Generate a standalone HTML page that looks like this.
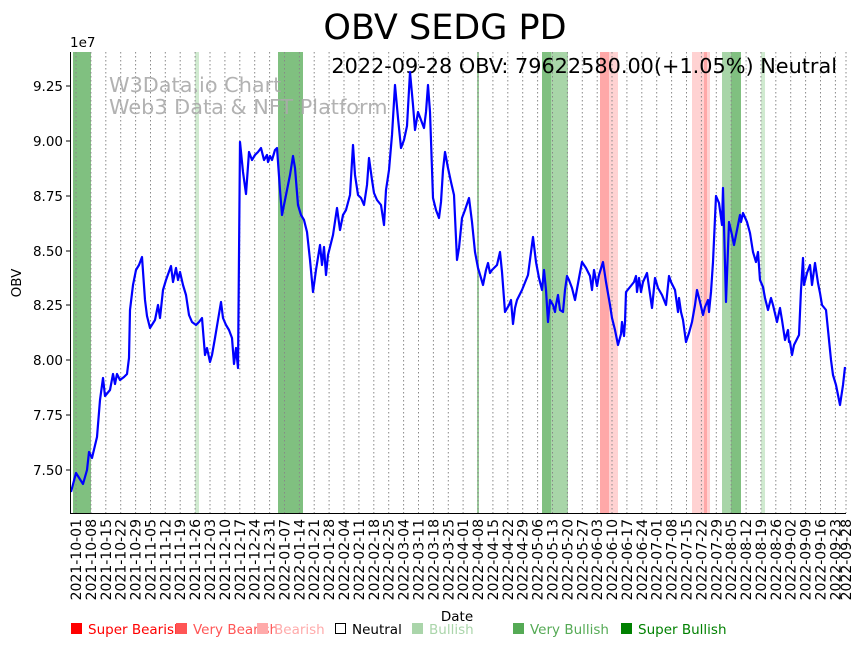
<!DOCTYPE html>
<html><head><meta charset="utf-8"><style>
html,body{margin:0;padding:0;background:#fff;}
svg{display:block;font-family:"DejaVu Sans","Liberation Sans",sans-serif;}
</style></head><body>
<svg width="864" height="646" viewBox="0 0 864 646" xmlns="http://www.w3.org/2000/svg">
<rect width="864" height="646" fill="#fff"/>
<text x="445" y="39" font-size="35" text-anchor="middle">OBV SEDG PD</text>
<g>
<rect x="73" y="52" width="18" height="461" fill="#80c080"/>
<rect x="195" y="52" width="4" height="461" fill="#d0ead0"/>
<rect x="278" y="52" width="25" height="461" fill="#80c080"/>
<rect x="477" y="52" width="2" height="461" fill="#9ccc9c"/>
<rect x="542" y="52" width="9" height="461" fill="#80c080"/>
<rect x="551" y="52" width="17" height="461" fill="#a8d5a8"/>
<rect x="600" y="52" width="9" height="461" fill="#ffa8a8"/>
<rect x="609" y="52" width="9" height="461" fill="#ffd2d2"/>
<rect x="692" y="52" width="18" height="461" fill="#ffd2d2"/>
<rect x="704" y="52" width="3" height="461" fill="#ffa8a8"/>
<rect x="722" y="52" width="9" height="461" fill="#a8d5a8"/>
<rect x="731" y="52" width="10" height="461" fill="#80c080"/>
<rect x="761" y="52" width="4" height="461" fill="#d0ead0"/>
</g>
<g stroke="#888" stroke-width="1" stroke-dasharray="1.5,2.5">
<line x1="76" y1="52" x2="76" y2="513"/><line x1="90.9" y1="52" x2="90.9" y2="513"/><line x1="105.8" y1="52" x2="105.8" y2="513"/><line x1="120.7" y1="52" x2="120.7" y2="513"/><line x1="135.6" y1="52" x2="135.6" y2="513"/><line x1="150.5" y1="52" x2="150.5" y2="513"/><line x1="165.3" y1="52" x2="165.3" y2="513"/><line x1="180.2" y1="52" x2="180.2" y2="513"/><line x1="195.1" y1="52" x2="195.1" y2="513"/><line x1="210" y1="52" x2="210" y2="513"/><line x1="224.9" y1="52" x2="224.9" y2="513"/><line x1="239.8" y1="52" x2="239.8" y2="513"/><line x1="254.7" y1="52" x2="254.7" y2="513"/><line x1="269.6" y1="52" x2="269.6" y2="513"/><line x1="284.5" y1="52" x2="284.5" y2="513"/><line x1="299.4" y1="52" x2="299.4" y2="513"/><line x1="314.2" y1="52" x2="314.2" y2="513"/><line x1="329.1" y1="52" x2="329.1" y2="513"/><line x1="344" y1="52" x2="344" y2="513"/><line x1="358.9" y1="52" x2="358.9" y2="513"/><line x1="373.8" y1="52" x2="373.8" y2="513"/><line x1="388.7" y1="52" x2="388.7" y2="513"/><line x1="403.6" y1="52" x2="403.6" y2="513"/><line x1="418.5" y1="52" x2="418.5" y2="513"/><line x1="433.4" y1="52" x2="433.4" y2="513"/><line x1="448.3" y1="52" x2="448.3" y2="513"/><line x1="463.1" y1="52" x2="463.1" y2="513"/><line x1="478" y1="52" x2="478" y2="513"/><line x1="492.9" y1="52" x2="492.9" y2="513"/><line x1="507.8" y1="52" x2="507.8" y2="513"/><line x1="522.7" y1="52" x2="522.7" y2="513"/><line x1="537.6" y1="52" x2="537.6" y2="513"/><line x1="552.5" y1="52" x2="552.5" y2="513"/><line x1="567.4" y1="52" x2="567.4" y2="513"/><line x1="582.3" y1="52" x2="582.3" y2="513"/><line x1="597.2" y1="52" x2="597.2" y2="513"/><line x1="612" y1="52" x2="612" y2="513"/><line x1="626.9" y1="52" x2="626.9" y2="513"/><line x1="641.8" y1="52" x2="641.8" y2="513"/><line x1="656.7" y1="52" x2="656.7" y2="513"/><line x1="671.6" y1="52" x2="671.6" y2="513"/><line x1="686.5" y1="52" x2="686.5" y2="513"/><line x1="701.4" y1="52" x2="701.4" y2="513"/><line x1="716.3" y1="52" x2="716.3" y2="513"/><line x1="731.2" y1="52" x2="731.2" y2="513"/><line x1="746.1" y1="52" x2="746.1" y2="513"/><line x1="760.9" y1="52" x2="760.9" y2="513"/><line x1="775.8" y1="52" x2="775.8" y2="513"/><line x1="790.7" y1="52" x2="790.7" y2="513"/><line x1="805.6" y1="52" x2="805.6" y2="513"/><line x1="820.5" y1="52" x2="820.5" y2="513"/><line x1="835.4" y1="52" x2="835.4" y2="513"/><line x1="846" y1="52" x2="846" y2="513"/>
</g>
<text x="109" y="92" font-size="20.8" fill="#aaa" fill-opacity="0.9">W3Data.io Chart</text>
<text x="109" y="114" font-size="20.8" fill="#aaa" fill-opacity="0.9">Web3 Data &amp; NFT Platform</text>
<text x="837" y="73" font-size="20.8" text-anchor="end">2022-09-28 OBV: 79622580.00(+1.05%) Neutral</text>
<polyline fill="none" stroke="#0000ff" stroke-width="2.2" stroke-linejoin="round" points="71,492 76,473 83,484 87,470 89,452 92,458 97,437 100,400 103,378 105,396 110,390 113,374 115,384 117,374 120,380 124,377 127,374 129,358 130,310 133,285 136,270 139,265 142,257 145,300 147,316 150,328 155,320 158,305 160,318 163,290 166,280 171,266 173,282 176,268 178,280 180,272 183,285 186,295 189,315 192,322 196,325 199,322 202,318 205,355 207,348 210,362 212,355 215,338 218,320 221,302 223,318 226,325 229,330 232,338 234,364 236,348 238,368 240,142 243,172 246,194 249,152 252,160 255,155 258,152 261,148 264,160 267,155 268,162 270,156 272,160 275,150 277,148 280,190 282,215 285,200 290,175 293,156 295,168 298,205 301,215 304,220 307,232 310,260 313,292 316,270 320,245 322,265 324,247 326,275 328,255 333,235 337,208 340,230 343,215 346,210 350,195 353,145 355,175 358,195 361,198 364,205 367,185 369,158 372,180 374,193 377,200 381,205 384,225 386,190 389,170 392,135 395,85 398,118 401,148 404,140 407,126 410,72 413,105 415,130 418,112 421,120 424,128 426,112 428,85 430,112 433,198 436,210 439,218 441,202 443,170 445,152 448,168 451,182 454,195 457,260 459,248 462,218 465,210 469,198 472,222 475,252 478,268 481,278 483,285 486,270 488,263 490,273 492,270 497,265 500,252 502,272 505,312 509,305 511,300 513,324 515,308 517,300 522,290 528,275 533,237 536,262 539,278 542,290 544,270 546,290 548,322 550,300 553,305 555,312 556,305 558,295 560,310 563,312 565,290 567,276 569,280 572,288 575,300 579,278 582,262 586,268 590,276 592,290 594,270 597,286 599,275 603,262 606,282 610,305 612,318 615,330 618,345 621,334 622,322 624,336 625,322 626,292 630,287 634,282 636,276 637,292 639,278 641,292 643,282 647,273 652,308 655,278 658,288 662,295 666,305 669,276 671,282 675,290 678,312 679,298 681,312 683,320 686,342 689,333 692,322 695,305 697,290 700,302 703,315 705,307 708,300 709,312 711,292 713,262 716,196 719,203 722,225 723,188 726,302 729,222 732,235 734,245 737,230 740,215 741,222 743,213 747,222 750,233 753,252 756,262 758,252 760,280 763,287 765,298 768,310 771,298 773,305 777,322 780,308 782,320 785,340 788,330 789,342 790,342 792,355 794,345 799,335 801,290 803,258 804,285 807,273 810,265 812,285 815,263 818,283 820,293 822,305 826,310 829,340 831,360 833,375 836,385 840,405 843,385 845,367"/>
<line x1="70.5" y1="52" x2="70.5" y2="514" stroke="#000" stroke-width="1"/>
<line x1="70" y1="513.5" x2="846" y2="513.5" stroke="#000" stroke-width="1"/>
<g stroke="#000">
<line x1="66" y1="470" x2="70" y2="470"/><line x1="66" y1="415" x2="70" y2="415"/><line x1="66" y1="360" x2="70" y2="360"/><line x1="66" y1="305" x2="70" y2="305"/><line x1="66" y1="251" x2="70" y2="251"/><line x1="66" y1="196" x2="70" y2="196"/><line x1="66" y1="141" x2="70" y2="141"/><line x1="66" y1="86" x2="70" y2="86"/>
</g>
<g font-size="13.5" text-anchor="end">
<text x="63" y="475">7.50</text><text x="63" y="420">7.75</text><text x="63" y="365">8.00</text><text x="63" y="310">8.25</text><text x="63" y="256">8.50</text><text x="63" y="201">8.75</text><text x="63" y="146">9.00</text><text x="63" y="91">9.25</text>
</g>
<text x="70" y="47" font-size="13.5">1e7</text>
<text transform="translate(21,283) rotate(-90)" font-size="13.5" text-anchor="middle">OBV</text>
<text x="457" y="621" font-size="13.5" text-anchor="middle">Date</text>
<g font-size="14" text-anchor="end">
<text transform="translate(81,519) rotate(-90)">2021-10-01</text>
<text transform="translate(95.9,519) rotate(-90)">2021-10-08</text>
<text transform="translate(110.8,519) rotate(-90)">2021-10-15</text>
<text transform="translate(125.7,519) rotate(-90)">2021-10-22</text>
<text transform="translate(140.6,519) rotate(-90)">2021-10-29</text>
<text transform="translate(155.5,519) rotate(-90)">2021-11-05</text>
<text transform="translate(170.3,519) rotate(-90)">2021-11-12</text>
<text transform="translate(185.2,519) rotate(-90)">2021-11-19</text>
<text transform="translate(200.1,519) rotate(-90)">2021-11-26</text>
<text transform="translate(215,519) rotate(-90)">2021-12-03</text>
<text transform="translate(229.9,519) rotate(-90)">2021-12-10</text>
<text transform="translate(244.8,519) rotate(-90)">2021-12-17</text>
<text transform="translate(259.7,519) rotate(-90)">2021-12-24</text>
<text transform="translate(274.6,519) rotate(-90)">2021-12-31</text>
<text transform="translate(289.5,519) rotate(-90)">2022-01-07</text>
<text transform="translate(304.4,519) rotate(-90)">2022-01-14</text>
<text transform="translate(319.2,519) rotate(-90)">2022-01-21</text>
<text transform="translate(334.1,519) rotate(-90)">2022-01-28</text>
<text transform="translate(349,519) rotate(-90)">2022-02-04</text>
<text transform="translate(363.9,519) rotate(-90)">2022-02-11</text>
<text transform="translate(378.8,519) rotate(-90)">2022-02-18</text>
<text transform="translate(393.7,519) rotate(-90)">2022-02-25</text>
<text transform="translate(408.6,519) rotate(-90)">2022-03-04</text>
<text transform="translate(423.5,519) rotate(-90)">2022-03-11</text>
<text transform="translate(438.4,519) rotate(-90)">2022-03-18</text>
<text transform="translate(453.3,519) rotate(-90)">2022-03-25</text>
<text transform="translate(468.1,519) rotate(-90)">2022-04-01</text>
<text transform="translate(483,519) rotate(-90)">2022-04-08</text>
<text transform="translate(497.9,519) rotate(-90)">2022-04-15</text>
<text transform="translate(512.8,519) rotate(-90)">2022-04-22</text>
<text transform="translate(527.7,519) rotate(-90)">2022-04-29</text>
<text transform="translate(542.6,519) rotate(-90)">2022-05-06</text>
<text transform="translate(557.5,519) rotate(-90)">2022-05-13</text>
<text transform="translate(572.4,519) rotate(-90)">2022-05-20</text>
<text transform="translate(587.3,519) rotate(-90)">2022-05-27</text>
<text transform="translate(602.2,519) rotate(-90)">2022-06-03</text>
<text transform="translate(617,519) rotate(-90)">2022-06-10</text>
<text transform="translate(631.9,519) rotate(-90)">2022-06-17</text>
<text transform="translate(646.8,519) rotate(-90)">2022-06-24</text>
<text transform="translate(661.7,519) rotate(-90)">2022-07-01</text>
<text transform="translate(676.6,519) rotate(-90)">2022-07-08</text>
<text transform="translate(691.5,519) rotate(-90)">2022-07-15</text>
<text transform="translate(706.4,519) rotate(-90)">2022-07-22</text>
<text transform="translate(721.3,519) rotate(-90)">2022-07-29</text>
<text transform="translate(736.2,519) rotate(-90)">2022-08-05</text>
<text transform="translate(751.1,519) rotate(-90)">2022-08-12</text>
<text transform="translate(765.9,519) rotate(-90)">2022-08-19</text>
<text transform="translate(780.8,519) rotate(-90)">2022-08-26</text>
<text transform="translate(795.7,519) rotate(-90)">2022-09-02</text>
<text transform="translate(810.6,519) rotate(-90)">2022-09-09</text>
<text transform="translate(825.5,519) rotate(-90)">2022-09-16</text>
<text transform="translate(840.4,519) rotate(-90)">2022-09-23</text>
<text transform="translate(851,519) rotate(-90)">2022-09-28</text>
</g>
<g font-size="13.5">
<rect x="71" y="623" width="11" height="11" fill="#ff0000"/><text x="88" y="634" fill="#ff0000">Super Bearish</text>
<rect x="176" y="623" width="11" height="11" fill="#ff5555"/><text x="193" y="634" fill="#ff5555">Very Bearish</text>
<rect x="257" y="623" width="11" height="11" fill="#ffaaaa"/><text x="274" y="634" fill="#ffaaaa">Bearish</text>
<rect x="335.5" y="623.5" width="10" height="10" fill="none" stroke="#000"/><text x="352" y="634" fill="#000">Neutral</text>
<rect x="412" y="623" width="11" height="11" fill="#aad5aa"/><text x="429" y="634" fill="#aad5aa">Bullish</text>
<rect x="513" y="623" width="11" height="11" fill="#55aa55"/><text x="530" y="634" fill="#55aa55">Very Bullish</text>
<rect x="621" y="623" width="11" height="11" fill="#008000"/><text x="638" y="634" fill="#008000">Super Bullish</text>
</g>
</svg>
</body></html>
